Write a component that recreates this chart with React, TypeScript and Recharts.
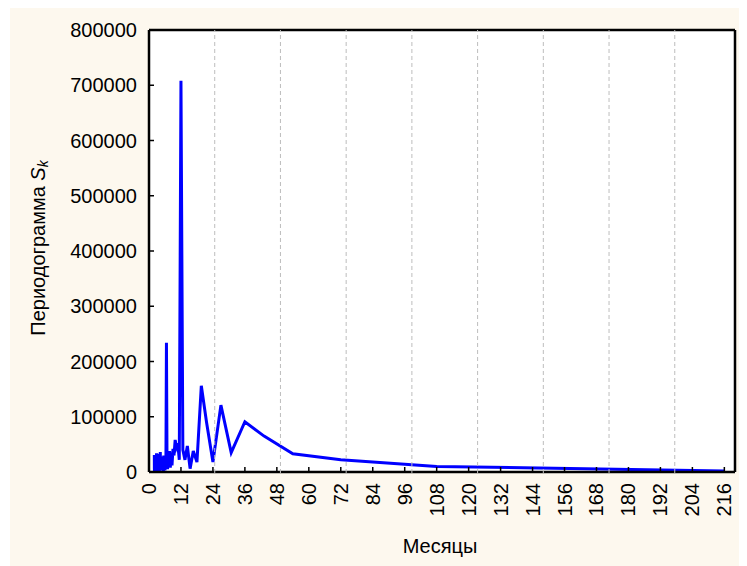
import { LineChart, Line, XAxis, YAxis } from 'recharts';

// periods in months (216 / k, k = 1..108)
const periods = [
  216, 108, 72, 54, 43.2, 36, 30.86, 27, 24, 21.6,
  19.64, 18, 16.62, 15.43, 14.4, 13.5, 12.71, 12, 11.37, 10.8,
  10.29, 9.82, 9.39, 9, 8.64, 8.31, 8, 7.71, 7.45, 7.2,
  6.97, 6.75, 6.55, 6.35, 6.17, 6, 5.84, 5.68, 5.54, 5.4,
  5.27, 5.14, 5.02, 4.91, 4.8, 4.7, 4.6, 4.5, 4.41, 4.32,
  4.24, 4.15, 4.08, 4, 3.93, 3.86, 3.79, 3.72, 3.66, 3.6,
  3.54, 3.48, 3.43, 3.38, 3.32, 3.27, 3.22, 3.18, 3.13, 3.09,
  3.04, 3, 2.96, 2.92, 2.88, 2.84, 2.81, 2.77, 2.73, 2.7,
  2.67, 2.63, 2.6, 2.57, 2.54, 2.51, 2.48, 2.45, 2.43, 2.4,
  2.37, 2.35, 2.32, 2.3, 2.27, 2.25, 2.23, 2.2, 2.18, 2.16,
  2.14, 2.12, 2.1, 2.08, 2.06, 2.04, 2.02, 2,
];

// periodogram S_k
const periodogram = [
  2000, 10000, 22000, 33000, 65000, 91000, 35000, 121000, 18000, 90000,
  156000, 18000, 38000, 6000, 47000, 22000, 40000, 708000, 22000, 52000,
  45000, 58000, 30000, 42000, 12000, 35000, 8000, 38000, 15000, 28000,
  5000, 32000, 234000, 10000, 25000, 3000, 22000, 8000, 30000, 2000,
  18000, 6000, 26000, 4000, 15000, 9000, 28000, 3000, 20000, 7000,
  36000, 2000, 14000, 5000, 24000, 1000, 19000, 6000, 33000, 4000,
  12000, 2000, 27000, 8000, 17000, 1000, 22000, 5000, 30000, 3000,
  11000, 6000, 25000, 2000, 16000, 7000, 34000, 1000, 13000, 4000,
  21000, 3000, 9000, 1000, 18000, 5000, 26000, 2000, 10000, 6000,
  15000, 1000, 23000, 4000, 8000, 2000, 29000, 3000, 12000, 5000,
  20000, 1000, 9000, 3000, 16000, 2000, 7000, 31000,
];

const xTicks = [0, 12, 24, 36, 48, 60, 72, 84, 96, 108, 120, 132, 144, 156, 168, 180, 192, 204, 216];
const yTicks = [0, 100000, 200000, 300000, 400000, 500000, 600000, 700000, 800000];
const xGrid = xTicks.slice(1);
const yGrid = yTicks.slice(1, -1);

const data = periods.map((p, i) => ({ period: p, value: periodogram[i] }));

const FONT = '"Liberation Sans", Arial, sans-serif';
const PLOT_W = 586;
const PLOT_H = 443;

const RotatedTick = ({ x, y, payload }: { x?: number; y?: number; payload?: { value: number } }) => (
  <text
    x={x}
    y={y}
    transform={`rotate(-90, ${x}, ${y})`}
    textAnchor="end"
    dominantBaseline="central"
    fontSize={20}
    fontFamily={FONT}
    fill="#000"
  >
    {payload?.value}
  </text>
);

const YLabel = ({ viewBox }: { viewBox?: { x: number; y: number; width: number; height: number } }) => {
  if (!viewBox) return null;
  const cx = 28;
  const cy = viewBox.y + viewBox.height / 2 - 3;
  return (
    <text
      x={cx}
      y={cy}
      transform={`rotate(-90, ${cx}, ${cy})`}
      textAnchor="middle"
      dominantBaseline="central"
      fontSize={20}
      fontFamily={FONT}
      fill="#000"
    >
      Периодограмма <tspan fontStyle="italic">S</tspan>
      <tspan fontStyle="italic" fontSize={14} dy={5}>k</tspan>
    </text>
  );
};

const XLabel = ({ viewBox }: { viewBox?: { x: number; y: number; width: number; height: number } }) => {
  if (!viewBox) return null;
  return (
    <text
      x={viewBox.x + viewBox.width / 2 - 2}
      y={viewBox.y + 74}
      textAnchor="middle"
      dominantBaseline="central"
      fontSize={20}
      fontFamily={FONT}
      fill="#000"
    >
      Месяцы
    </text>
  );
};

const noTick = () => null;
const axisLine = { stroke: '#000', strokeWidth: 2.5 };
const tickLine = { stroke: '#000', strokeWidth: 1.5 };
// the top and right frame axes draw the dashed grid with full-length ticks
const gridLine = { stroke: '#BDBDBD', strokeWidth: 1, strokeDasharray: '4 3' };

export default function App() {
  return (
    <div style={{ position: 'relative', marginLeft: 2, width: 737, height: 558, background: '#FDF8EE' }}>
      {/* white plot background behind the svg */}
      <div style={{ position: 'absolute', left: 139, top: 22, width: PLOT_W, height: PLOT_H, background: '#fff' }} />
      <div style={{ position: 'absolute', left: 0, top: 0 }}>
        <LineChart width={737} height={558} data={data} margin={{ top: 21, right: 11, left: 0, bottom: 0 }}>
          <XAxis
            type="number"
            dataKey="period"
            domain={[0, 220]}
            ticks={xTicks}
            interval={0}
            height={94}
            tickSize={-5}
            tickMargin={16}
            axisLine={axisLine}
            tickLine={tickLine}
            tick={<RotatedTick />}
            label={<XLabel />}
          />
          <XAxis
            xAxisId="top"
            orientation="top"
            type="number"
            domain={[0, 220]}
            ticks={xGrid}
            interval={0}
            height={1}
            tickSize={-PLOT_H}
            axisLine={axisLine}
            tickLine={gridLine}
            tick={noTick}
          />
          <YAxis
            type="number"
            domain={[0, 800000]}
            ticks={yTicks}
            interval={0}
            width={139}
            tickSize={-5}
            tickMargin={17}
            axisLine={axisLine}
            tickLine={tickLine}
            tick={{ fontSize: 20, fontFamily: FONT, fill: '#000' }}
            label={<YLabel />}
          />
          <YAxis
            yAxisId="right"
            orientation="right"
            type="number"
            domain={[0, 800000]}
            ticks={yGrid}
            interval={0}
            width={1}
            tickSize={-PLOT_W}
            axisLine={axisLine}
            tickLine={gridLine}
            tick={noTick}
          />
          <Line
            type="linear"
            dataKey="value"
            stroke="#0000FF"
            strokeWidth={3}
            dot={false}
            isAnimationActive={false}
          />
        </LineChart>
      </div>
    </div>
  );
}
